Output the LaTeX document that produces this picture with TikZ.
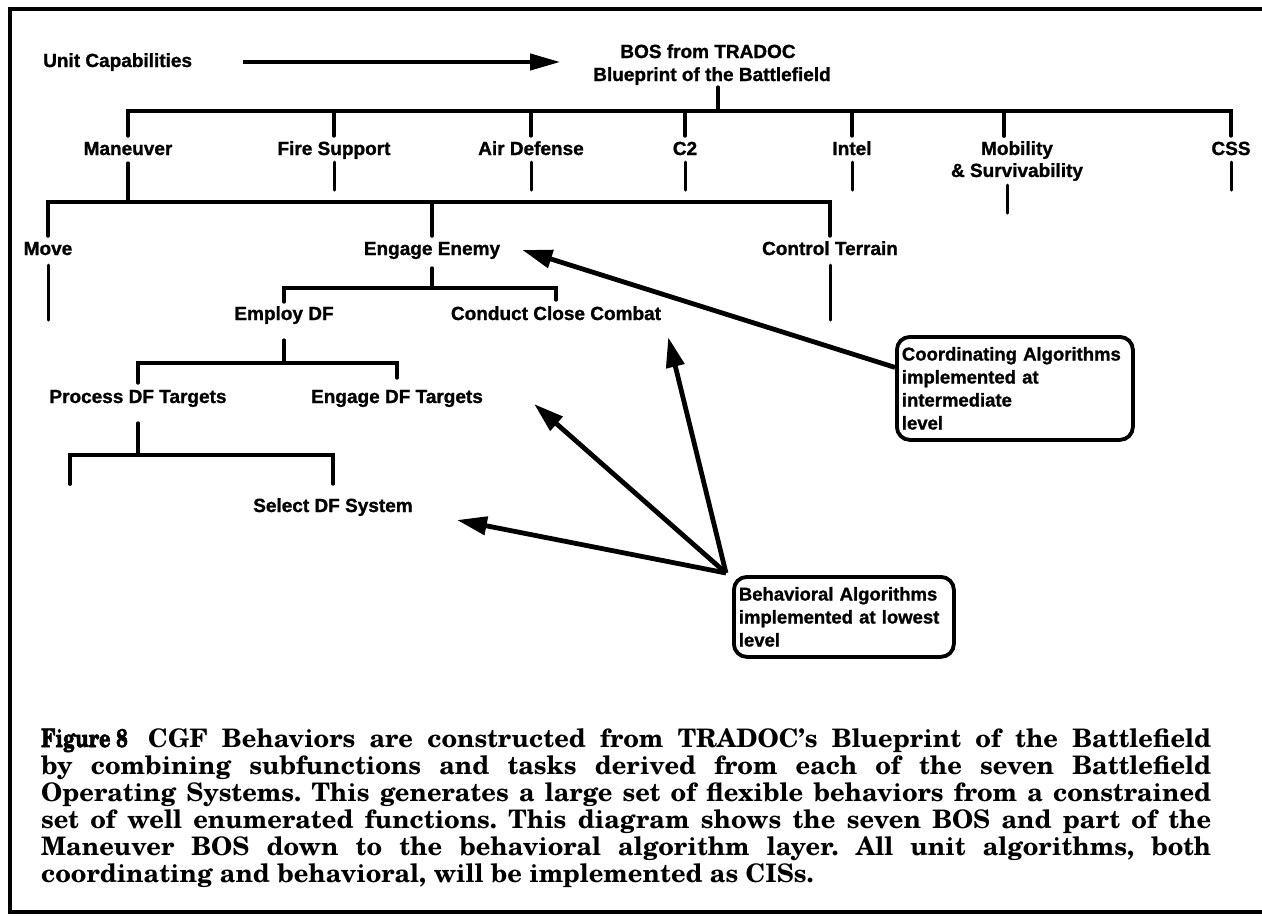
\documentclass[tikz,border=0pt]{standalone}
\usepackage{graphicx}
\usepackage{fontspec}
\setmainfont{Liberation Sans}[BoldFeatures={FakeBold=1.2}]
\newfontfamily\capfont{texgyreschola}[Extension=.otf, UprightFont=*-regular, BoldFont=*-bold]
\newfontfamily\figfont{texgyreschola}[Extension=.otf, UprightFont=*-regular, BoldFont=*-bold,
  BoldFeatures={FakeBold=2.5}]
\usetikzlibrary{arrows.meta}
\frenchspacing

\begin{document}
\begin{tikzpicture}[x=1pt,y=-1pt,
  lab/.style={font=\fontsize{19}{22}\selectfont\bfseries, inner sep=0pt, text height=14pt, text depth=4pt},
  lab2/.style={font=\fontsize{19}{22}\selectfont\bfseries, inner sep=0pt, align=center},
  tree/.style={line width=3.8pt, line cap=round},
  stub/.style={line width=3pt, line cap=round},
  pointer/.style={line width=4.8pt, -{Triangle[length=30pt,width=18pt]}},
  callout/.style={draw, line width=3.8pt, rounded corners=13pt, inner xsep=5pt, inner ysep=3pt,
    align=left, anchor=north west, font=\fontsize{18.5}{23}\selectfont\bfseries},
  frame/.style={line width=4pt}]
\useasboundingbox (0,0) rectangle (1262,916);

% border of the figure
\draw[frame] (1262,9) -- (10,9) -- (10,912) -- (1262,912);

% heading
\node[lab, anchor=west] (unit) at (43,62) {Unit Capabilities};
\node[lab] (bos1) at (708,53) {BOS from TRADOC};
\node[lab] (bos2) at (712,76) {Blueprint of the Battlefield};
\draw[line width=4pt, -{Triangle[length=30pt,width=16pt]}, shorten <=51pt, shorten >=60pt]
  (unit.east) -- (unit.east -| bos1.west);

% the seven BOS
\node[lab] (man)   at (128,150) {Maneuver};
\node[lab] (fire)  at (334,150) {Fire Support};
\node[lab] (air)   at (531,150) {Air Defense};
\node[lab] (ctwo)  at (685,150) {C2};
\node[lab] (intel) at (852,150) {Intel};
\node[lab2, anchor=north] (mob) at (1017,141) {Mobility\\\& Survivability};
\node[lab] (css)   at (1231,150) {CSS};

\coordinate (j0) at (718,111);
\draw[tree] ([yshift=-2pt]bos2.south -| j0) -- (j0);
\draw[tree] ([yshift=5pt]man.north) -- (man.north |- j0) -- (css.north |- j0) -- ([yshift=5pt]css.north);
\foreach \n in {fire,air,ctwo,intel}
  \draw[tree] (\n.north |- j0) -- ([yshift=5pt]\n.north);
\draw[tree] ([xshift=-13pt]mob.north |- j0) -- ([xshift=-13pt,yshift=5pt]mob.north);

% broken stubs below the other BOS
\foreach \n in {fire,air,ctwo,intel,css}
  \draw[stub] ([yshift=-3pt]\n.south) -- ++(0,28);
\draw[stub] ([xshift=-10pt,yshift=-4pt]mob.south) -- ++(0,28);

% Maneuver subfunctions
\node[lab] (move)   at (48,250)  {Move};
\node[lab] (engage) at (432,250) {Engage Enemy};
\node[lab] (ctrl)   at (830,250) {Control Terrain};
\coordinate (j1) at (0,202);
\draw[tree] ([yshift=-4pt]man.south) -- (man.south |- j1);
\draw[tree] ([yshift=5pt]move.north) -- (move.north |- j1) -- (ctrl.north |- j1) -- ([yshift=5pt]ctrl.north);
\draw[tree] (engage.north |- j1) -- ([yshift=5pt]engage.north);
\draw[stub] ([yshift=-6pt]move.south) -- ++(0,55);
\draw[stub] ([yshift=-6pt]ctrl.south) -- ++(0,55);

% Engage Enemy tasks
\node[lab] (employ)  at (284,315) {Employ DF};
\node[lab] (conduct) at (556,315) {Conduct Close Combat};
\coordinate (j2) at (0,288);
\draw[tree] ([yshift=-9pt]engage.south) -- (engage.south |- j2);
\draw[tree] ([yshift=4pt]employ.north) -- (employ.north |- j2) -- (conduct.north |- j2) -- ([yshift=6pt]conduct.north);

% Employ DF tasks
\node[lab] (process) at (138,398) {Process DF Targets};
\node[lab] (engdf)   at (397,398) {Engage DF Targets};
\coordinate (j3) at (0,363);
\draw[tree] ([yshift=-16pt]employ.south) -- (employ.south |- j3);
\draw[tree] ([yshift=6pt]process.north) -- (process.north |- j3) -- (engdf.north |- j3) -- ([yshift=11pt]engdf.north);

% Process DF Targets tasks
\node[lab] (select) at (333,507) {Select DF System};
\coordinate (j4) at (0,455);
\coordinate (leaf) at (70,484);
\draw[tree] ([yshift=-16pt]process.south) -- (process.south |- j4);
\draw[tree] (leaf) -- (leaf |- j4) -- (select.north |- j4) -- ([yshift=14pt]select.north);

% algorithm callouts
\node[callout, text width=226pt, minimum height=103pt] (coord) at (895,335)
  {Coordinating Algorithms\\implemented at\\intermediate\\level};
\node[callout, text width=210pt, minimum height=80pt] (behav) at (732,575)
  {Behavioral Algorithms\\implemented at lowest\\level};

\draw[pointer] ([yshift=21pt]coord.west) -- ([xshift=22pt]engage.east);
\draw[pointer] ([xshift=-6pt,yshift=2pt]behav.north west) -- ([xshift=7pt,yshift=-13pt]conduct.south east);
\draw[pointer] ([xshift=-6pt,yshift=2pt]behav.north west) -- ([xshift=51pt,yshift=-6pt]engdf.east);
\draw[pointer] ([xshift=-6pt,yshift=2pt]behav.north west) -- ([xshift=44pt,yshift=-13pt]select.east);

% caption
\node[anchor=north west, inner sep=0pt, align=left,
      font=\capfont\bfseries\fontsize{25.5}{27}\selectfont] (caption) at (41,728)
  {\makebox[107pt][l]{\scalebox{0.78}[1]{\figfont\bfseries Figure 8}}\makebox[1063pt][s]{CGF Behaviors are constructed from TRADOC’s Blueprint of the Battlefield}\\
   \makebox[1170pt][s]{by combining subfunctions and tasks derived from each of the seven Battlefield}\\
   \makebox[1170pt][s]{Operating Systems. This generates a large set of flexible behaviors from a constrained}\\
   \makebox[1170pt][s]{set of well enumerated functions. This diagram shows the seven BOS and part of the}\\
   \makebox[1170pt][s]{Maneuver BOS down to the behavioral algorithm layer. All unit algorithms, both}\\
   coordinating and behavioral, will be implemented as CISs.};
\end{tikzpicture}
\end{document}
